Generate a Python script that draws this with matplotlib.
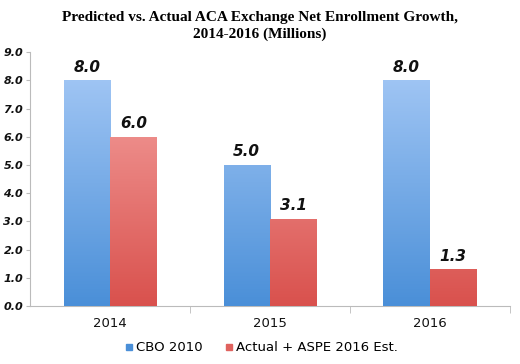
import numpy as np
import matplotlib.pyplot as plt
from matplotlib.colors import LinearSegmentedColormap

years = ["2014", "2015", "2016"]
cbo_2010 = [8.0, 5.0, 8.0]
actual = [6.0, 3.1, 1.3]
series_names = ["CBO 2010", "Actual + ASPE 2016 Est."]

blue_cmap = LinearSegmentedColormap.from_list("b", ["#4a8fd8", "#a9cbf7"])
red_cmap = LinearSegmentedColormap.from_list("r", ["#d9514d", "#f7a9a7"])

fig = plt.figure(figsize=(5.2, 3.64), dpi=100)
ax = fig.add_axes([0.058, 0.159, 0.922, 0.698])

x = np.arange(len(years))
w = 0.29
grad = np.linspace(0, 1, 256).reshape(-1, 1)


def gradient_bars(xs, vals, cmap, color):
    bars = ax.bar(xs, vals, w, color=color, zorder=2)
    for b in bars:
        x0 = b.get_x()
        im = ax.imshow(grad, cmap=cmap, origin="lower", aspect="auto",
                       extent=[x0, x0 + b.get_width(), 0, 9], zorder=3)
        im.set_clip_path(b)
    return bars


gradient_bars(x - w / 2, cbo_2010, blue_cmap, "#4a8fd8")
gradient_bars(x + w / 2, actual, red_cmap, "#d9514d")

for i in range(len(years)):
    ax.text(x[i] - w / 2, cbo_2010[i] + 0.2, "%.1f" % cbo_2010[i], ha="center", va="bottom",
            fontsize=11, fontweight="bold", style="italic", color="#111111")
    ax.text(x[i] + w / 2, actual[i] + 0.2, "%.1f" % actual[i], ha="center", va="bottom",
            fontsize=11, fontweight="bold", style="italic", color="#111111")

ax.set_xlim(-0.5, 2.5)
ax.set_ylim(0, 9)
ax.set_yticks(np.arange(0, 10, 1.0))
ax.set_yticklabels(["%.1f" % v for v in np.arange(0, 10, 1.0)], fontsize=8,
                   fontweight="bold", style="italic", color="#111111")
ax.set_xticks(x)
ax.set_xticklabels(years, fontsize=9.5, color="#111111")
ax.set_xticks([0.5, 1.5, 2.5], minor=True)
ax.tick_params(axis="x", which="major", length=0, pad=8)
ax.tick_params(axis="x", which="minor", length=5, color="#bbbbbb", direction="out")
ax.tick_params(axis="y", length=3, color="#bbbbbb", pad=2)
for s in ["top", "right"]:
    ax.spines[s].set_visible(False)
for s in ["left", "bottom"]:
    ax.spines[s].set_color("#bbbbbb")

fig.suptitle("Predicted vs. Actual ACA Exchange Net Enrollment Growth,\n2014-2016 (Millions)",
             x=0.5, y=0.97, fontsize=11, fontweight="bold", family="Liberation Serif",
             linespacing=1.35)

h1 = plt.Line2D([], [], marker="s", linestyle="", color="#4a8fd8", markersize=4.5)
h2 = plt.Line2D([], [], marker="s", linestyle="", color="#e0625e", markersize=4.5)
fig.legend([h1, h2], series_names, loc="center", bbox_to_anchor=(0.5, 0.045), ncol=2,
           frameon=False, fontsize=9.5, handletextpad=0.05, columnspacing=1.5,
           handlelength=1.0)

fig.savefig("out.png")
